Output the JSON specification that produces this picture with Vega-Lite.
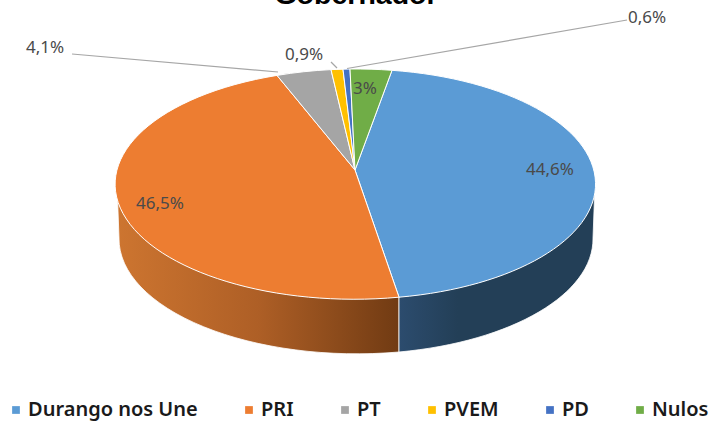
{"$schema":"https://vega.github.io/schema/vega-lite/v6.json","width":712,"height":423,"padding":0,"autosize":{"type":"none"},"background":"white","config":{"view":{"stroke":null}},"title":{"text":"Gobernador","font":"Liberation Sans","fontSize":28.5,"fontWeight":"bold","color":"#000000","anchor":"middle","offset":-9},"data":{"values":[{"party":"Durango nos Une","value":44.6,"label":"44,6%"},{"party":"PRI","value":46.5,"label":"46,5%"},{"party":"PT","value":4.1,"label":"4,1%"},{"party":"PVEM","value":0.9,"label":"0,9%"},{"party":"PD","value":0.6,"label":"0,6%"},{"party":"Nulos","value":3,"label":"3%"}]},"resolve":{"scale":{"shape":"independent"}},"layer":[{"transform":[{"filter":"datum.party==='PRI'"}],"mark":{"type":"point","filled":true,"size":4,"opacity":1,"stroke":"#ffffff","strokeWidth":0.8,"shape":"M-239,-27.5 L-237,26.5 A238,115 0 0 0 43,140.5 L43,85.7 Z","fill":{"gradient":"linear","x1":0,"y1":0,"x2":1,"y2":0,"stops":[{"offset":0,"color":"#cd7530"},{"offset":0.5,"color":"#ae5f26"},{"offset":1,"color":"#713b13"}]}},"encoding":{}},{"transform":[{"filter":"datum.party==='Durango nos Une'"}],"mark":{"type":"point","filled":true,"size":4,"opacity":1,"stroke":"#ffffff","strokeWidth":0.8,"shape":"M239,-27.5 L237,26.5 A238,115 0 0 1 43,140.5 L43,85.7 Z","fill":{"gradient":"linear","x1":0,"y1":0,"x2":1,"y2":0,"stops":[{"offset":0,"color":"#2c4c6e"},{"offset":0.3,"color":"#233f57"},{"offset":1,"color":"#233f57"}]}},"encoding":{}},{"mark":{"type":"point","filled":true,"size":4,"opacity":1,"stroke":"#ffffff","strokeWidth":1},"encoding":{"color":{"field":"party","type":"nominal","sort":null,"scale":{"domain":["Durango nos Une","PRI","PT","PVEM","PD","Nulos"],"range":["#5b9bd5","#ed7d31","#a5a5a5","#ffc000","#4472c4","#70ad47"]},"legend":{"orient":"none","legendX":6,"legendY":400,"direction":"horizontal","columns":6,"title":null,"symbolType":"square","symbolSize":60,"symbolStrokeWidth":0,"labelFont":"Noto Sans","labelFontSize":20,"labelFontWeight":600,"labelColor":"#1a1a1a","labelOffset":2,"labelLimit":300,"columnPadding":41}},"shape":{"field":"party","type":"nominal","legend":null,"scale":{"domain":["Durango nos Une","PRI","PT","PVEM","PD","Nulos"],"range":["M-1,-41.5 L43,85.7 A239,115 0 0 0 36,-141.2 Z","M-1,-41.5 L-79,-136.1 A239,115 0 0 0 43,85.7 Z","M-1,-41.5 L-25,-141.9 A239,115 0 0 0 -79,-136.1 Z","M-1,-41.5 L-13,-142.3 A239,115 0 0 0 -25,-141.9 Z","M-1,-41.5 L-6,-142.5 A239,115 0 0 0 -13,-142.3 Z","M-1,-41.5 L36,-141.2 A239,115 0 0 0 -6,-142.5 Z"]}}}},{"transform":[{"filter":"indexof(['PT','PVEM','PD'],datum.party)>=0"}],"mark":{"type":"point","filled":false,"size":4,"opacity":1,"stroke":"#a6a6a6","strokeWidth":1.2},"encoding":{"shape":{"field":"party","type":"nominal","legend":null,"scale":{"domain":["PT","PVEM","PD"],"range":["M-284,-157.5 L-78,-139.5","M-25,-149.5 L-19,-143.5","M271,-191.5 L-9,-143"]}}}},{"transform":[{"filter":"datum.party==='Durango nos Une'"}],"mark":{"type":"text","font":"Noto Sans","fontSize":17,"color":"#4a4a4a","dx":194,"dy":-41.5},"encoding":{"text":{"field":"label"}}},{"transform":[{"filter":"datum.party==='PRI'"}],"mark":{"type":"text","font":"Noto Sans","fontSize":17,"color":"#4a4a4a","dx":-196,"dy":-7.5},"encoding":{"text":{"field":"label"}}},{"transform":[{"filter":"datum.party==='PT'"}],"mark":{"type":"text","font":"Noto Sans","fontSize":17,"color":"#4a4a4a","dx":-311,"dy":-163.5},"encoding":{"text":{"field":"label"}}},{"transform":[{"filter":"datum.party==='PVEM'"}],"mark":{"type":"text","font":"Noto Sans","fontSize":17,"color":"#4a4a4a","dx":-52,"dy":-156.5},"encoding":{"text":{"field":"label"}}},{"transform":[{"filter":"datum.party==='PD'"}],"mark":{"type":"text","font":"Noto Sans","fontSize":17,"color":"#4a4a4a","dx":291,"dy":-193.5},"encoding":{"text":{"field":"label"}}},{"transform":[{"filter":"datum.party==='Nulos'"}],"mark":{"type":"text","font":"Noto Sans","fontSize":17,"color":"#4a4a4a","dx":9,"dy":-122.5},"encoding":{"text":{"field":"label"}}}]}
